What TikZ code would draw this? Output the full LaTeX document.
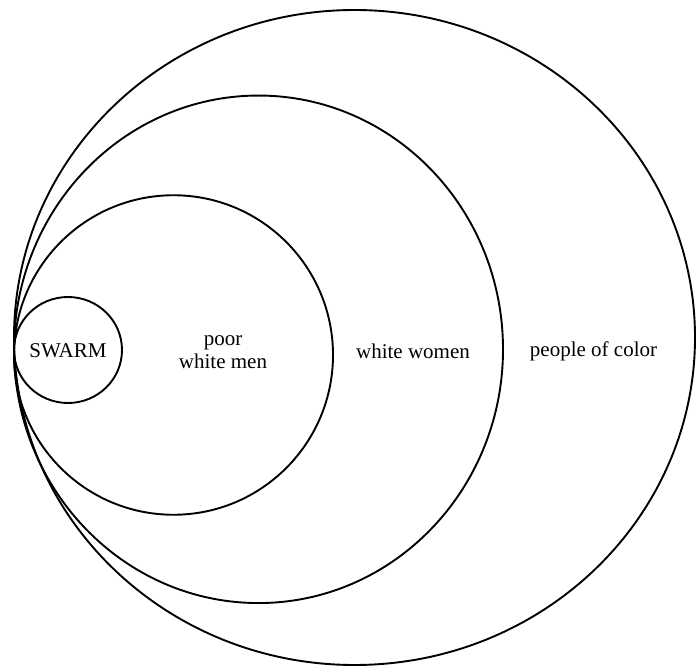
\documentclass[tikz,border=0pt]{standalone}
\usepackage{fontspec}
\setmainfont{Liberation Serif}
\usetikzlibrary{shapes.geometric}
\begin{document}
\begin{tikzpicture}[x=1pt,y=-1pt,
  ring/.style={draw=black,line width=1.9pt,ellipse,inner sep=0pt,fill=none},
  lbl/.style={font=\fontsize{21}{23.5}\selectfont,align=center,inner sep=0pt}]
\useasboundingbox[fill=white] (0,0) rectangle (696,668);
\node[ring,minimum width=681pt,minimum height=655pt] (outer) at (354.5,337.5) {};
\node[ring,minimum width=489pt,minimum height=507.5pt] (second) at (258.5,349.3) {};
\node[ring,minimum width=319pt,minimum height=319.5pt] (third) at (173.5,355) {};
\node[ring,minimum width=108pt,minimum height=106pt] (swarm) at (68,350) {};
\node[lbl] (swarmtxt) at (68,351) {SWARM};
\node[lbl] (poor) at (223,352) {poor\\white men};
\node[lbl] (women) at (413,351) {white women};
\node[lbl] (color) at (593.5,351) {people of color};
\end{tikzpicture}
\end{document}
